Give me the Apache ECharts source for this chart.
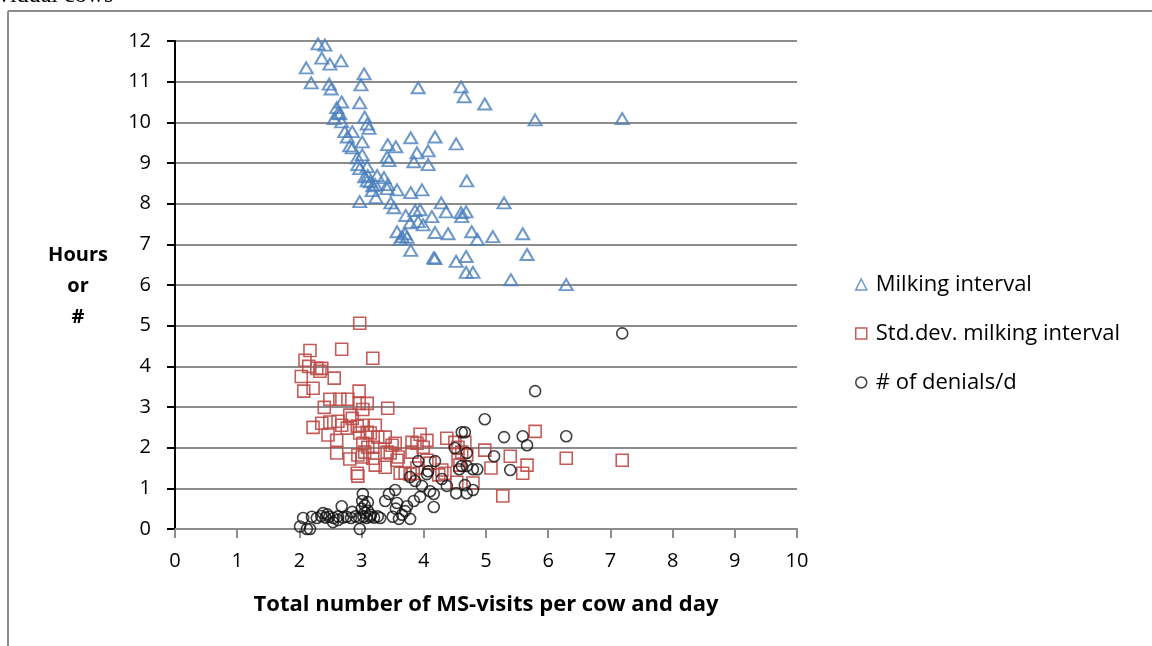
<!DOCTYPE html>
<html>
<head>
<meta charset="utf-8">
<script src="https://cdn.jsdelivr.net/npm/echarts@6/dist/echarts.min.js"></script>
<style>
html,body{margin:0;padding:0;background:#fff;}
#c{width:1152px;height:646px;}
</style>
</head>
<body>
<div id="c"></div>
<script>
// ---- data ----
const xTicks = [0,1,2,3,4,5,6,7,8,9,10];
const yTicks = [0,1,2,3,4,5,6,7,8,9,10,11,12];
const seriesNames = ['Milking interval', 'Std.dev. milking interval', '# of denials/d'];
const yTitleLines = ['Hours', 'or', '#'];

const milkX = [2.30,2.41,2.36,2.49,2.67,2.11,2.19,2.48,2.51,3.04,2.99,3.91,4.60,4.65,4.98,5.79,7.19,2.68,2.97,2.60,2.62,2.65,2.56,2.68,3.05,3.09,3.12,2.73,2.85,2.77,2.81,2.85,3.01,3.01,2.93,2.94,2.97,3.09,3.05,3.10,3.25,3.14,3.09,3.18,3.22,3.17,3.23,3.36,3.42,3.41,3.57,2.97,3.42,3.55,3.79,4.18,4.52,3.41,3.44,3.89,3.84,4.07,4.07,4.69,3.79,3.97,3.47,3.52,3.71,3.86,3.94,3.78,3.91,3.99,4.13,4.28,4.36,4.60,4.68,4.61,5.29,3.57,3.65,3.62,3.70,3.73,4.18,4.39,4.77,4.86,5.11,5.59,3.79,4.16,4.18,4.52,4.68,5.66,4.68,4.79,5.40,6.29];
const milkY = [11.93,11.90,11.58,11.43,11.51,11.34,10.97,10.94,10.82,11.19,10.92,10.85,10.87,10.63,10.45,10.06,10.09,10.50,10.48,10.36,10.23,10.21,10.09,10.01,10.13,9.96,9.85,9.77,9.77,9.64,9.42,9.37,9.52,9.20,9.13,8.96,8.86,8.91,8.66,8.69,8.69,8.54,8.56,8.44,8.47,8.32,8.15,8.64,8.47,8.37,8.34,8.05,9.45,9.40,9.62,9.64,9.47,9.15,9.06,9.25,9.03,9.30,8.96,8.56,8.27,8.34,8.02,7.90,7.71,7.83,7.85,7.53,7.56,7.48,7.68,8.02,7.80,7.78,7.80,7.68,8.02,7.31,7.19,7.12,7.26,7.17,7.29,7.26,7.31,7.12,7.19,7.26,6.85,6.67,6.65,6.58,6.70,6.75,6.31,6.31,6.13,6.01];

const sdX = [2.97,2.17,2.68,3.18,2.09,2.15,2.28,2.36,2.33,2.03,2.56,2.22,2.07,2.96,2.49,2.65,2.78,2.96,3.09,2.40,3.02,3.42,2.81,2.85,2.22,2.36,2.49,2.62,2.68,2.46,2.60,2.77,2.93,3.01,2.97,3.09,3.22,3.14,3.26,3.38,3.49,3.54,3.02,3.10,3.18,3.05,2.60,2.81,2.94,3.01,3.18,3.41,3.46,3.38,3.22,3.59,3.57,3.62,3.70,2.93,2.94,3.81,3.89,3.94,4.05,3.99,3.81,3.83,3.89,4.05,4.10,4.29,4.24,4.34,4.37,4.50,4.55,4.66,4.61,4.69,4.55,4.58,4.53,4.79,4.98,5.08,5.39,5.79,6.29,7.19,5.66,5.59,5.27,3.78];
const sdY = [5.06,4.39,4.42,4.20,4.15,4.00,3.95,3.95,3.88,3.75,3.71,3.46,3.39,3.39,3.19,3.19,3.19,3.09,3.09,2.99,2.94,2.97,2.80,2.72,2.50,2.60,2.63,2.65,2.55,2.31,2.18,2.48,2.53,2.55,2.36,2.38,2.55,2.36,2.26,2.26,2.06,2.11,2.11,2.01,2.01,1.89,1.87,1.72,1.82,1.77,1.74,1.89,1.87,1.52,1.57,1.77,1.69,1.37,1.37,1.37,1.30,2.13,2.11,2.33,2.18,2.01,1.89,1.37,1.50,1.69,1.62,1.45,1.33,1.37,2.23,2.13,2.01,2.13,1.89,1.82,1.69,1.57,1.15,1.13,1.94,1.50,1.79,2.40,1.74,1.69,1.57,1.37,0.81,1.35];

const denX = [7.19,5.79,4.98,4.61,4.66,5.29,5.59,5.66,6.29,4.50,4.69,5.13,5.39,4.57,4.61,4.69,4.79,4.86,3.91,4.18,4.07,4.05,3.78,3.86,3.97,4.10,4.16,4.16,4.29,4.37,4.52,4.69,4.79,4.66,3.54,3.44,3.38,3.57,3.73,3.78,3.60,3.94,3.84,3.70,3.02,3.01,3.10,2.68,2.97,2.01,2.12,2.17,2.06,2.20,2.28,2.35,2.42,2.48,2.55,2.62,2.70,2.76,2.83,2.90,2.96,3.03,3.08,3.14,3.20,3.26,3.30,2.38,2.45,2.85,3.05,3.15,2.54,2.62,3.00,3.05,3.10,3.50,3.65,3.55];
const denY = [4.81,3.39,2.70,2.38,2.38,2.26,2.28,2.06,2.28,1.99,1.87,1.79,1.45,1.47,1.55,1.55,1.47,1.47,1.67,1.67,1.42,1.35,1.28,1.18,1.06,0.93,0.86,0.54,1.23,1.06,0.88,0.88,0.96,1.08,0.96,0.86,0.69,0.64,0.56,0.25,0.25,0.79,0.69,0.44,0.86,0.69,0.66,0.56,0.00,0.06,0.00,0.00,0.27,0.30,0.27,0.32,0.28,0.30,0.27,0.31,0.28,0.30,0.27,0.31,0.28,0.30,0.27,0.30,0.28,0.31,0.27,0.39,0.36,0.42,0.40,0.35,0.17,0.22,0.50,0.58,0.45,0.30,0.35,0.50];

const zip = (xs, ys) => xs.map((x, i) => [x, ys[i]]);

const BLUE = '#4a7ebb', RED = '#be4b48', BLACK = '#111';
const FONT = '"Open Sans", Lato, "Liberation Sans", sans-serif';

const yTitle = yTitleLines.map((t, i) => ({
  type: 'text', x: 78, y: 255 + i * 31,
  style: {text: t, align: 'center', verticalAlign: 'middle', font: 'bold 20px ' + FONT, fill: '#000'}
}));

const chart = echarts.init(document.getElementById('c'), null, {renderer: 'canvas'});
chart.setOption({
  animation: false,
  backgroundColor: '#fff',
  grid: {left: 175, right: 355, top: 41, bottom: 117, containLabel: false},
  xAxis: {
    type: 'value', min: 0, max: 10, interval: 1,
    axisLine: {show: true, onZero: false, lineStyle: {color: '#8c8c8c', width: 2}},
    axisTick: {show: true, length: 9, lineStyle: {color: '#8c8c8c', width: 2}},
    axisLabel: {color: '#000', fontSize: 20, fontFamily: FONT, margin: 22,
      formatter: v => String(xTicks[xTicks.indexOf(v)])},
    splitLine: {show: false},
    name: 'Total number of MS-visits per cow and day',
    nameLocation: 'middle', nameGap: 65,
    nameTextStyle: {color: '#000', fontSize: 22, fontWeight: 'bold', fontFamily: FONT}
  },
  yAxis: {
    type: 'value', min: 0, max: 12, interval: 1,
    axisLine: {show: true, onZero: false, lineStyle: {color: '#000', width: 2}},
    axisTick: {show: true, length: 8, lineStyle: {color: '#000', width: 2}},
    axisLabel: {color: '#000', fontSize: 20, fontFamily: FONT, margin: 24,
      formatter: v => String(yTicks[yTicks.indexOf(v)])},
    splitLine: {show: true, lineStyle: {color: '#8c8c8c', width: 2}}
  },
  legend: {
    orient: 'vertical', left: 855, top: 272, itemGap: 24, padding: 0,
    itemWidth: 11, itemHeight: 11,
    textStyle: {color: '#000', fontSize: 22, fontFamily: FONT, lineHeight: 25, padding: [0, 0, 0, 4]},
    data: [
      {name: seriesNames[0], icon: 'triangle', itemStyle: {color: 'rgba(0,0,0,0)', borderColor: BLUE, borderWidth: 1.5}},
      {name: seriesNames[1], icon: 'rect', itemStyle: {color: 'rgba(0,0,0,0)', borderColor: RED, borderWidth: 1.5}},
      {name: seriesNames[2], icon: 'circle', itemStyle: {color: 'rgba(0,0,0,0)', borderColor: BLACK, borderWidth: 1.5}}
    ]
  },
  graphic: [
    {type: 'line', shape: {x1: 8, y1: 11, x2: 1152, y2: 11}, style: {stroke: '#8c8c8c', lineWidth: 2}},
    {type: 'line', shape: {x1: 8, y1: 11, x2: 8, y2: 646}, style: {stroke: '#8c8c8c', lineWidth: 2}},
    {type: 'text', left: -2, top: -16, style: {text: 'vidual cows', font: '24px "Liberation Serif", serif', fill: '#000'}}
  ].concat(yTitle),
  series: [
    {name: seriesNames[0], type: 'scatter', symbol: 'triangle', symbolSize: [13, 11],
     itemStyle: {color: 'rgba(0,0,0,0)', borderColor: BLUE, borderWidth: 2}, data: zip(milkX, milkY)},
    {name: seriesNames[1], type: 'scatter', symbol: 'rect', symbolSize: 12,
     itemStyle: {color: 'rgba(0,0,0,0)', borderColor: RED, borderWidth: 1.6, opacity: 0.9}, data: zip(sdX, sdY)},
    {name: seriesNames[2], type: 'scatter', symbol: 'circle', symbolSize: 11,
     itemStyle: {color: 'rgba(0,0,0,0)', borderColor: BLACK, borderWidth: 1.6}, data: zip(denX, denY)}
  ]
});
</script>
</body>
</html>
